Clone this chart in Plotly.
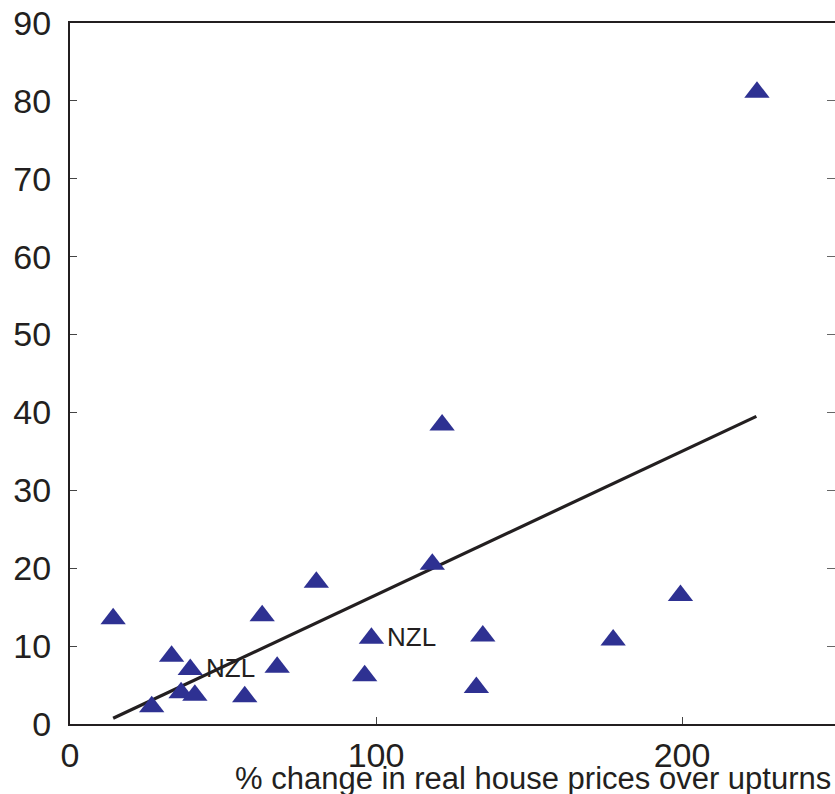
import plotly.graph_objects as go

# Data
x_vals = [14.1, 26.7, 33.2, 36.3, 39.3, 40.8, 57.1, 62.8, 67.7, 80.5,
          96.3, 98.5, 118.4, 121.6, 132.8, 134.9, 177.5, 199.5, 224.5]
y_vals = [13.5, 2.2, 8.7, 4.0, 7.0, 3.7, 3.5, 13.9, 7.3, 18.2,
          6.2, 11.0, 20.5, 38.4, 4.7, 11.3, 10.8, 16.5, 81.1]
label_x = [39.3, 98.5]
label_y = [7.0, 11.0]
label_text = ["NZL", "NZL"]
fit_x = [14.1, 224.3]
fit_y = [0.73, 39.5]
x_ticks = [0, 100, 200]
y_ticks = [0, 10, 20, 30, 40, 50, 60, 70, 80, 90]
x_title = "% change in real house prices over upturns"

INK = "#231f20"
BLUE = "#2e3192"
FONT = "Liberation Sans, Arial, Helvetica, sans-serif"

fig = go.Figure()
fig.add_trace(go.Scatter(x=fit_x, y=fit_y, mode="lines",
                         line=dict(color=INK, width=3.2), showlegend=False,
                         hoverinfo="skip"))
fig.add_trace(go.Scatter(x=x_vals, y=y_vals, mode="markers",
                         marker=dict(symbol="triangle-up", size=22, color=BLUE,
                                     line=dict(width=0)),
                         showlegend=False))
# invisible trace on a right-side axis to carry inward ticks
fig.add_trace(go.Scatter(x=[x_vals[0]], y=[y_vals[0]], yaxis="y2", mode="markers",
                         marker=dict(opacity=0), showlegend=False, hoverinfo="skip"))

for lx, ly, lt in zip(label_x, label_y, label_text):
    fig.add_annotation(x=lx, y=ly, text=lt, showarrow=False, xanchor="left",
                       yanchor="middle", xshift=14, yshift=1,
                       font=dict(family=FONT, size=26, color=INK))

fig.add_annotation(xref="paper", yref="paper", x=1, y=0, text=x_title,
                   showarrow=False, xanchor="right", yanchor="middle",
                   xshift=-2, yshift=-54,
                   font=dict(family=FONT, size=31, color=INK))

fig.update_layout(
    width=835, height=794,
    margin=dict(l=70, r=0, t=23, b=70, autoexpand=False),
    paper_bgcolor="white", plot_bgcolor="white",
    font=dict(family=FONT, color=INK),
    xaxis=dict(range=[0, 250], tickvals=x_ticks, ticks="inside", ticklen=7,
               tickwidth=1.2, tickcolor="#444", showline=True, linewidth=2,
               linecolor=INK, mirror=True, showgrid=False, zeroline=False,
               automargin=False,
               tickfont=dict(size=34, family=FONT, color=INK),
               ticklabelstandoff=0),
    yaxis=dict(range=[0, 90], tickvals=y_ticks, ticks="inside", ticklen=7,
               tickwidth=1.2, tickcolor="#444", showline=True, linewidth=2,
               linecolor=INK, showgrid=False, zeroline=False,
               automargin=False,
               tickfont=dict(size=34, family=FONT, color=INK),
               ticklabelstandoff=10),
    yaxis2=dict(range=[0, 90], tickvals=y_ticks, overlaying="y", side="right",
                ticks="inside", ticklen=8, tickwidth=1.2, tickcolor="#666",
                showticklabels=False, showline=False, showgrid=False,
                zeroline=False, automargin=False),
)

fig.write_html("out.html", config={"displayModeBar": False},
               post_script="document.body.style.margin='0';document.body.style.overflow='hidden';")
